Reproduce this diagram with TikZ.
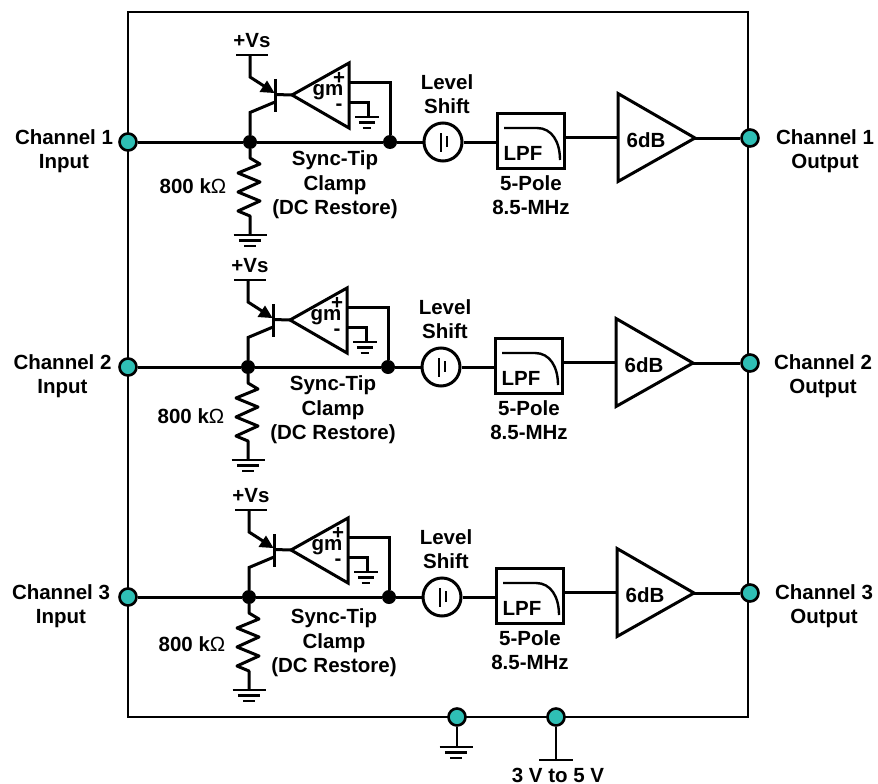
\documentclass[tikz,border=0pt]{standalone}
\usepackage{fontspec}
\setmainfont{Liberation Sans}
\usetikzlibrary{calc}
\definecolor{pin}{HTML}{2FBFB5}
\tikzset{
  x=1pt,y=-1pt,
  wire/.style={line width=3pt,line join=miter},
  thin wire/.style={line width=2.4pt},
  lbl/.style={inner sep=0pt,align=center,font=\fontsize{20.5}{24.5}\selectfont\bfseries},
  pinnode/.style={circle,draw=black,fill=pin,line width=2.6pt,minimum size=17pt,inner sep=0pt},
  junc/.style={circle,fill=black,minimum size=14pt,inner sep=0pt},
  shiftnode/.style={circle,draw=black,line width=3pt,minimum size=38pt,inner sep=0pt},
  lpfbox/.style={rectangle,draw=black,line width=3pt,minimum width=67pt,minimum height=55pt,inner sep=0pt},
  amp/.style={line width=3pt,line join=miter,fill=white},
}
\newcommand{\gndsym}[4]{% x y halfwidth name
  \coordinate (#4) at (#1,#2);
  \draw[thin wire] ($(#4)+(-#3,0)$) -- ($(#4)+(#3,0)$);
  \draw[thin wire] ($(#4)+(-0.68*#3,5.5)$) -- ($(#4)+(0.68*#3,5.5)$);
  \draw[line width=2.6pt] ($(#4)+(-0.36*#3,11)$) -- ($(#4)+(0.36*#3,11)$);
}
\newcommand{\chan}[7]{% name, dx, dy, number, input label x, resistor label dy, clamp label dy
\begin{scope}[shift={(#2,#3)}]
  \node[pinnode] (#1in) at (128-#2,142) {};
  \node[junc] (#1ja) at (250,142) {};
  \node[junc] (#1jb) at (390,142) {};
  \node[shiftnode] (#1ls) at (443,142) {};
  \node[lpfbox] (#1lpf) at (530.5,140.5) {};
  \node[pinnode] (#1out) at (750-#2,138) {};
  \coordinate (#1ta) at (618,93.5);
  \coordinate (#1tb) at (618,181.5);
  \coordinate (#1tc) at (695,138);
  \coordinate (#1ga) at (292,95);
  \coordinate (#1gb) at (349,63);
  \coordinate (#1gc) at (349,128);
  \coordinate (#1vs) at (250,55);
  \coordinate (#1rt) at (250,158);
  \coordinate (#1rb) at (250,216);
  % wires
  \draw[wire] (#1in) -- (#1ja) -- (#1jb) -- (#1ls);
  \draw[wire] (#1ls) -- (#1lpf.west |- #1ls);
  \draw[wire] (#1lpf.east |- 0,137.5) -- (#1ta |- 0,137.5);
  \draw[wire] (#1tc) -- (#1out);
  % resistor
  \draw[wire,line join=round] (#1ja) -- (#1rt) -- (260,164) -- (238,173) -- (260,182) -- (238,192) -- (260,201) -- (238,211) -- (#1rb) -- (250,235);
  \gndsym{250}{235}{16.5}{#1gnd}
  % transistor
  \draw[thin wire] (236,55) -- (268,55);
  \draw[wire] (#1vs) -- (250,77) -- (264,86);
  \fill (274.5,93) -- (259.5,92) -- (267,80.5) -- cycle;
  \draw[wire] (275,79) -- (275,112);
  \draw[wire] (#1ja) -- (250,112.5) -- (275,102);
  \draw[wire] (275,94.5) -- (#1ga);
  % transconductance amp
  \draw[amp] (#1ga) -- (#1gb) -- (#1gc) -- cycle;
  \draw[wire] (#1gb |- 0,82) -- (390,82) -- (#1jb);
  \draw[wire] (#1gb |- 0,102) -- (368,102) -- (368,117);
  \gndsym{367}{117}{12}{#1ggnd}
  % output amp
  \draw[amp] (#1ta) -- (#1tb) -- (#1tc) -- cycle;
  % level shift bars
  \draw[line width=2.8pt] (441,133) -- (441,152);
  \draw[line width=2.8pt] (447,136) -- (447,147);
  % filter curve
  \draw[line width=2.4pt] (504,128) -- (537,128) .. controls (552,128) and (560,142) .. (560,160);
  % labels
  \node[lbl] (#1plus) at (339,78) {+};
  \node[lbl] (#1gm) at (328,92) {gm};
  \node[lbl] (#1minus) at (339,107) {-};
  \node[lbl] (#1vl) at (252,41) {+Vs};
  \node[lbl] (#1rl) at (193,186+#6) {800 k{\fontseries{m}\selectfont Ω}};
  \node[lbl] (#1st) at (335,185+#7) {Sync-Tip\\Clamp\\(DC Restore)};
  \node[lbl] (#1lv) at (447,94) {Level\\Shift};
  \node[lbl] (#1lp) at (523,153) {LPF};
  \node[lbl] (#1po) at (531,195) {5-Pole\\8.5-MHz};
  \node[lbl] (#1db) at (646,140) {6dB};
  \node[lbl] (#1il) at (#5-#2,151) {Channel #4\\Input};
  \node[lbl] (#1ol) at (825,151) {Channel #4\\Output};
\end{scope}}
\begin{document}
\begin{tikzpicture}
\useasboundingbox (0,0) rectangle (878,784);
\node[rectangle,draw=black,line width=2.2pt,minimum width=620pt,minimum height=705pt,inner sep=0pt] (frame) at (438,364.5) {};
\chan{a}{0}{0}{1}{64}{0}{0}
\chan{b}{-2}{225}{2}{62.5}{5}{0}
\chan{c}{-1}{455}{3}{61}{3}{3}
% supply pins
\node[pinnode] (pg) at (457,717) {};
\node[pinnode] (pv) at (556,717) {};
\coordinate (pgb) at (457,747);
\coordinate (pvb) at (556,760);
\draw[thin wire] (pg) -- (pgb);
\gndsym{456}{747}{16.5}{pgg}
\draw[thin wire] (pv) -- (pvb);
\draw[thin wire] (539,760) -- (573,760);
\node[lbl] (vl) at (558,775) {3 V to 5 V};
\end{tikzpicture}
\end{document}
